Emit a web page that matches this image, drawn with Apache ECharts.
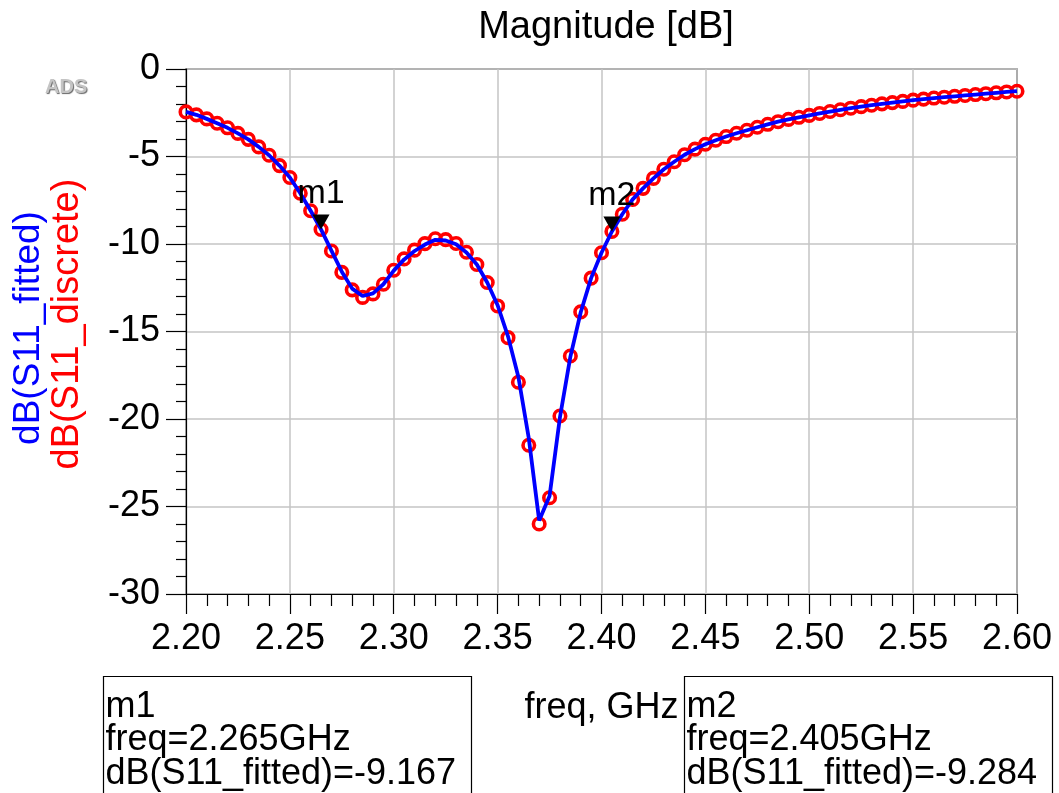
<!DOCTYPE html>
<html>
<head>
<meta charset="utf-8">
<script src="https://cdn.jsdelivr.net/npm/echarts@6/dist/echarts.min.js"></script>
<style>
  html, body { margin: 0; padding: 0; background: #fff; }
  #chart { width: 1059px; height: 793px; }
</style>
</head>
<body>
<div id="chart"></div>
<script>
// Frequency sweep (GHz)
const freq = [
  2.200, 2.205, 2.210, 2.215, 2.220, 2.225, 2.230, 2.235, 2.240, 2.245,
  2.250, 2.255, 2.260, 2.265, 2.270, 2.275, 2.280, 2.285, 2.290, 2.295,
  2.300, 2.305, 2.310, 2.315, 2.320, 2.325, 2.330, 2.335, 2.340, 2.345,
  2.350, 2.355, 2.360, 2.365, 2.370, 2.375, 2.380, 2.385, 2.390, 2.395,
  2.400, 2.405, 2.410, 2.415, 2.420, 2.425, 2.430, 2.435, 2.440, 2.445,
  2.450, 2.455, 2.460, 2.465, 2.470, 2.475, 2.480, 2.485, 2.490, 2.495,
  2.500, 2.505, 2.510, 2.515, 2.520, 2.525, 2.530, 2.535, 2.540, 2.545,
  2.550, 2.555, 2.560, 2.565, 2.570, 2.575, 2.580, 2.585, 2.590, 2.595,
  2.600
];

// dB(S11_discrete): sample points
const s11Discrete = [
  -2.45, -2.62, -2.85, -3.10, -3.36, -3.68, -4.02, -4.45, -4.93, -5.52,
  -6.20, -7.10, -8.10, -9.17, -10.40, -11.62, -12.62, -13.05, -12.85, -12.30,
  -11.50, -10.85, -10.35, -9.98, -9.70, -9.75, -9.97, -10.47, -11.17, -12.20,
  -13.54, -15.35, -17.90, -21.50, -26.00, -24.50, -19.83, -16.40, -13.88, -11.95,
  -10.50, -9.28, -8.30, -7.45, -6.82, -6.25, -5.73, -5.30, -4.90, -4.58,
  -4.30, -4.07, -3.86, -3.67, -3.50, -3.33, -3.16, -3.01, -2.88, -2.76,
  -2.65, -2.54, -2.43, -2.33, -2.24, -2.15, -2.07, -1.99, -1.92, -1.85,
  -1.78, -1.72, -1.66, -1.61, -1.56, -1.51, -1.46, -1.41, -1.36, -1.31,
  -1.27
];

// dB(S11_fitted): fitted model response
const s11Fitted = [
  -2.45, -2.62, -2.85, -3.10, -3.36, -3.68, -4.02, -4.45, -4.93, -5.52,
  -6.20, -7.10, -8.10, -9.167, -10.38, -11.58, -12.55, -12.97, -12.82, -12.30,
  -11.52, -10.88, -10.40, -10.03, -9.76, -9.80, -10.01, -10.48, -11.17, -12.20,
  -13.50, -15.28, -17.60, -21.10, -25.80, -24.40, -19.90, -16.45, -13.90, -11.95,
  -10.50, -9.284, -8.30, -7.45, -6.82, -6.25, -5.73, -5.30, -4.90, -4.58,
  -4.30, -4.07, -3.86, -3.67, -3.50, -3.33, -3.16, -3.01, -2.88, -2.76,
  -2.65, -2.54, -2.43, -2.33, -2.24, -2.15, -2.07, -1.99, -1.92, -1.85,
  -1.78, -1.72, -1.66, -1.61, -1.56, -1.51, -1.46, -1.41, -1.36, -1.31,
  -1.27
];

// Markers placed on the fitted trace (sample indices)
const markerNames = ['m1', 'm2'];
const markerIndex = [13, 41];

const FONT = 'Liberation Sans, Arial, Helvetica, sans-serif';
const BLUE = '#0000ff';
const RED = '#ff0000';

const chart = echarts.init(document.getElementById('chart'), null, { renderer: 'canvas' });

const discreteData = freq.map((f, i) => [f, s11Discrete[i]]);
const fittedData = freq.map((f, i) => [f, s11Fitted[i]]);

const markData = markerNames.map((name, k) => ({
  name: name,
  coord: [freq[markerIndex[k]], s11Fitted[markerIndex[k]]]
}));

// Marker readout boxes under the plot
const boxLeft = [103.5, 684.5];
const readoutGraphics = [];
markerNames.forEach((name, k) => {
  const i = markerIndex[k];
  const x0 = boxLeft[k];
  readoutGraphics.push({
    type: 'rect',
    shape: { x: x0, y: 676.5, width: 368, height: 130 },
    style: { fill: 'none', stroke: '#000', lineWidth: 1.2 },
    silent: true
  });
  const lines = [
    name,
    'freq=' + freq[i].toFixed(3) + 'GHz',
    'dB(S11_fitted)=' + s11Fitted[i].toFixed(3)
  ];
  lines.forEach((t, j) => {
    readoutGraphics.push({
      type: 'text',
      x: x0 + 2,
      y: 707 + j * 33.5,
      style: {
        text: t, fill: '#000', font: '36px ' + FONT,
        textAlign: 'left', textVerticalAlign: 'middle'
      },
      silent: true
    });
  });
});

const option = {
  backgroundColor: '#ffffff',
  animation: false,
  title: {
    text: 'Magnitude [dB]',
    left: 601,
    top: 4,
    textAlign: 'center',
    textStyle: { fontFamily: FONT, fontSize: 38, fontWeight: 'normal', color: '#000' }
  },
  grid: {
    left: 186, right: 42, top: 69, bottom: 199,
    show: true, borderColor: '#000', borderWidth: 1.2, backgroundColor: 'transparent'
  },
  xAxis: {
    type: 'value',
    min: 2.2, max: 2.6, interval: 0.05,
    name: 'freq, GHz',
    nameLocation: 'middle',
    nameGap: 96,
    nameTextStyle: { fontFamily: FONT, fontSize: 36, color: '#000' },
    axisLine: { show: true, onZero: false, lineStyle: { color: '#000', width: 1.2 } },
    axisTick: { show: true, inside: false, length: 20, lineStyle: { color: '#000', width: 1.2 } },
    minorTick: { show: true, splitNumber: 5, length: 12, lineStyle: { color: '#000', width: 1.2 } },
    axisLabel: {
      show: true, margin: 27, color: '#000', fontFamily: FONT, fontSize: 36,
      showMinLabel: true, showMaxLabel: true, hideOverlap: false,
      formatter: v => v.toFixed(2)
    },
    splitLine: { show: true, lineStyle: { color: '#c4c4c4', width: 1.5 } },
    minorSplitLine: { show: false }
  },
  yAxis: {
    type: 'value',
    min: -30, max: 0, interval: 5,
    axisLine: { show: true, onZero: false, lineStyle: { color: '#000', width: 1.2 } },
    axisTick: { show: true, inside: false, length: 20, lineStyle: { color: '#000', width: 1.2 } },
    minorTick: { show: true, splitNumber: 5, length: 10, lineStyle: { color: '#000', width: 1.2 } },
    axisLabel: {
      show: true, margin: 26, color: '#000', fontFamily: FONT, fontSize: 36,
      showMinLabel: true, showMaxLabel: true, hideOverlap: false,
      formatter: v => String(v)
    },
    splitLine: { show: true, lineStyle: { color: '#c4c4c4', width: 1.5 } },
    minorSplitLine: { show: false }
  },
  series: [
    {
      name: 'dB(S11_discrete)',
      type: 'scatter',
      data: discreteData,
      symbol: 'circle',
      symbolSize: 11.5,
      itemStyle: { color: 'rgba(0,0,0,0)', borderColor: RED, borderWidth: 3.6, opacity: 1 },
      emphasis: { disabled: true },
      z: 2
    },
    {
      name: 'dB(S11_fitted)',
      type: 'line',
      data: fittedData,
      showSymbol: false,
      symbol: 'none',
      smooth: false,
      lineStyle: { color: BLUE, width: 3.8 },
      emphasis: { disabled: true },
      z: 3,
      markPoint: {
        symbol: 'path://M0 0L17 0L8.5 15Z',
        symbolSize: [17, 15],
        symbolOffset: [0, -7.5],
        itemStyle: { color: '#000' },
        label: {
          show: true, position: 'top', distance: 4,
          formatter: '{b}', color: '#000', fontFamily: FONT, fontSize: 34
        },
        emphasis: { disabled: true },
        data: markData
      }
    }
  ],
  graphic: [
    // Two-trace y-axis title, rotated
    {
      type: 'text', x: 29, y: 328, rotation: Math.PI / 2,
      style: { text: 'dB(S11_fitted)', fill: BLUE, font: '37px ' + FONT, textAlign: 'center', textVerticalAlign: 'middle' },
      silent: true
    },
    {
      type: 'text', x: 68, y: 324, rotation: Math.PI / 2,
      style: { text: 'dB(S11_discrete)', fill: RED, font: '38px ' + FONT, textAlign: 'center', textVerticalAlign: 'middle' },
      silent: true
    },
    {
      type: 'text', x: 45, y: 87,
      style: {
        text: 'ADS', fill: '#c4c4c4', font: 'bold 20px ' + FONT,
        textAlign: 'left', textVerticalAlign: 'middle',
        textShadowColor: '#666', textShadowOffsetX: 1, textShadowOffsetY: 1, textShadowBlur: 1
      },
      silent: true
    }
  ].concat(readoutGraphics)
};

chart.setOption(option);
</script>
</body>
</html>
